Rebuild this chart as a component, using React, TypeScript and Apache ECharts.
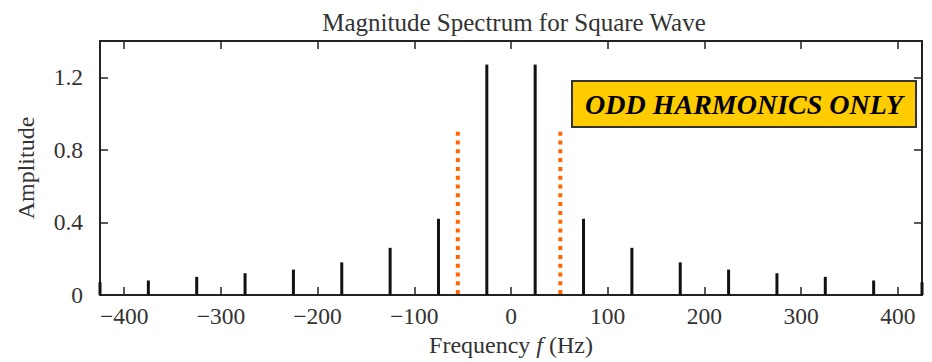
import React, { useEffect, useRef } from "react";
import * as echarts from "echarts";

const titleText = "Magnitude Spectrum for Square Wave";
const harmonicFreqs = [-425, -375, -325, -275, -225, -175, -125, -75, -25, 25, 75, 125, 175, 225, 275, 325, 375, 425];
const amplitudes = [0.07, 0.08, 0.1, 0.12, 0.14, 0.18, 0.26, 0.42, 1.27, 1.27, 0.42, 0.26, 0.18, 0.14, 0.12, 0.1, 0.08, 0.07];
const markerFreqs = [-55, 51];
const markerTop = 0.9;
const markerBottom = -0.02;
const xTickValues = [-400, -300, -200, -100, 0, 100, 200, 300, 400];
const yTickValues = [0, 0.4, 0.8, 1.2];
const xRange = [-425, 425];
const yRange = [0, 1.4];
const annotationText = "ODD HARMONICS ONLY";

const SERIF = "'Liberation Serif', 'DejaVu Serif', serif";
const AX = "#222";

export default function App() {
  const ref = useRef<HTMLDivElement>(null);
  useEffect(() => {
    if (!ref.current) return;
    const chart = echarts.init(ref.current, null, { renderer: "svg" });
    const fmt = (v: number) => (v < 0 ? "\u2212" + Math.abs(v) : String(v));
    const axisLine = { show: true, onZero: false, lineStyle: { color: AX, width: 2 } };
    const tickX = { show: true, inside: true, length: 8, customValues: xTickValues, lineStyle: { color: AX, width: 1.5 } };
    const tickY = { show: true, inside: true, length: 8, customValues: yTickValues, lineStyle: { color: AX, width: 1.5 } };
    const option: any = {
      animation: false,
      backgroundColor: "#fff",
      title: {
        text: titleText,
        left: 509,
        textAlign: "center",
        top: 5,
        textStyle: { fontFamily: SERIF, fontSize: 25, fontWeight: "normal", color: "#333" },
      },
      grid: { left: 100, top: 41, width: 822, height: 254 },
      xAxis: [
        {
          type: "value",
          position: "bottom",
          min: xRange[0],
          max: xRange[1],
          axisLine,
          axisTick: tickX,
          splitLine: { show: false },
          axisLabel: {
            customValues: xTickValues,
            formatter: fmt,
            margin: 9,
            fontFamily: SERIF,
            fontSize: 23.5,
            color: "#333",
          },
          name: "Frequency {i|f} (Hz)",
          nameLocation: "middle",
          nameGap: 38,
          nameTextStyle: {
            fontFamily: SERIF,
            fontSize: 24,
            color: "#333",
            rich: { i: { fontFamily: SERIF, fontSize: 24, fontStyle: "italic", color: "#333" } },
          },
        },
        {
          type: "value",
          position: "top",
          min: xRange[0],
          max: xRange[1],
          axisLine,
          axisTick: tickX,
          splitLine: { show: false },
          axisLabel: { show: false },
        },
      ],
      yAxis: [
        {
          type: "value",
          position: "left",
          min: yRange[0],
          max: yRange[1],
          axisLine,
          axisTick: tickY,
          splitLine: { show: false },
          axisLabel: {
            customValues: yTickValues,
            margin: 17,
            fontFamily: SERIF,
            fontSize: 23.5,
            color: "#333",
          },
          name: "Amplitude",
          nameLocation: "middle",
          nameGap: 62,
          nameTextStyle: { fontFamily: SERIF, fontSize: 24, color: "#333" },
        },
        {
          type: "value",
          position: "right",
          min: yRange[0],
          max: yRange[1],
          axisLine,
          axisTick: tickY,
          splitLine: { show: false },
          axisLabel: { show: false },
        },
      ],
      series: [
        {
          type: "bar",
          xAxisIndex: 0,
          yAxisIndex: 0,
          barWidth: 3,
          itemStyle: { color: "#111" },
          data: harmonicFreqs.map((f, i) => [f, amplitudes[i]]),
          z: 3,
        },
        ...markerFreqs.map((f) => ({
          type: "line",
          xAxisIndex: 0,
          yAxisIndex: 0,
          clip: false,
          symbol: "none",
          lineStyle: { color: "#FF6600", width: 4, type: [4, 4.8], cap: "butt" },
          data: [
            [f, markerTop],
            [f, markerBottom],
          ],
          z: 4,
        })),
      ],
      graphic: [
        {
          type: "group",
          left: 571,
          top: 80,
          children: [
            {
              type: "rect",
              shape: { x: 0, y: 0, width: 344, height: 46 },
              style: { fill: "#FFCC00", stroke: "#333", lineWidth: 2 },
            },
            {
              type: "text",
              x: 172,
              y: 23,
              style: {
                text: annotationText,
                fill: "#000",
                fontFamily: SERIF,
                fontSize: 28,
                fontWeight: "bold",
                fontStyle: "italic",
                textAlign: "center",
                textVerticalAlign: "middle",
              },
            },
          ],
        },
      ],
    };
    chart.setOption(option);
    return () => chart.dispose();
  }, []);
  return <div ref={ref} style={{ width: 932, height: 362, position: "absolute", left: 0, top: 0 }} />;
}
